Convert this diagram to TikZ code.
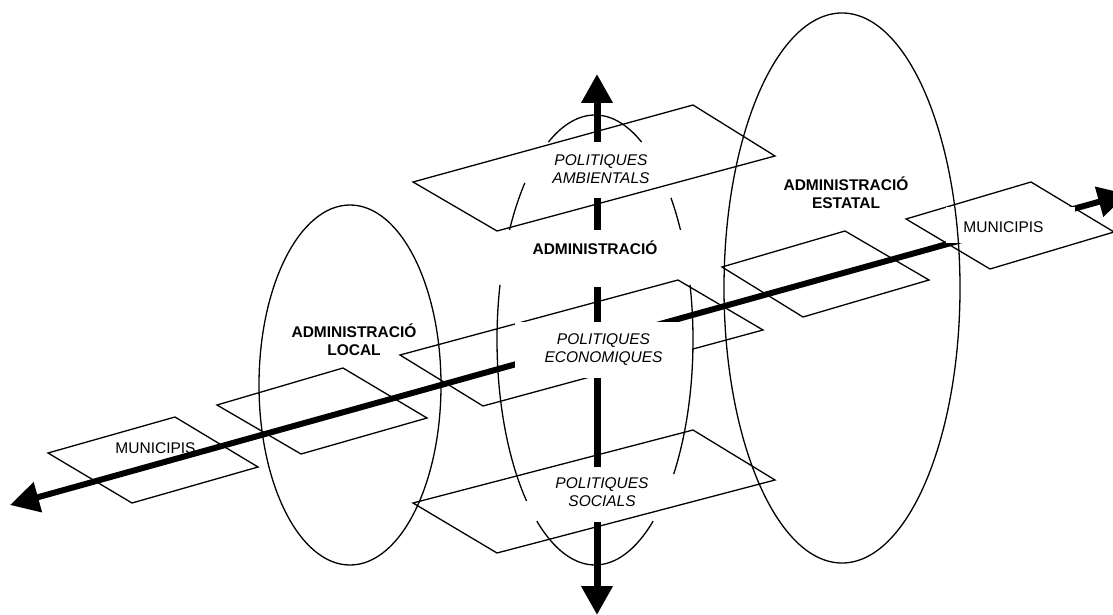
\documentclass[tikz,border=0pt]{standalone}
\usepackage{fontspec}
\setmainfont{Liberation Sans}
\usetikzlibrary{arrows.meta}
\tikzset{bighead/.tip={Triangle[length=29pt,width=30pt]}}
\begin{document}
\begin{tikzpicture}[x=1pt,y=-1pt,
  outline/.style={draw, line width=1.3pt},
  plane/.style={draw, line width=1.3pt, line join=miter},
  axisline/.style={line width=6pt},
  vaxis/.style={line width=7pt},
  lbl/.style={font=\fontsize{15.5}{18}\selectfont, align=center, inner sep=0pt},
  boldlbl/.style={lbl, font=\fontsize{15.5}{18}\selectfont\bfseries},
  itlbl/.style={lbl, font=\fontsize{15.5}{18}\selectfont\itshape},
  arc part/.style={draw, line width=1.3pt}
]
\useasboundingbox (0,0) rectangle (1113,615);

% local administration ring
\draw[outline] (350,385) ellipse[x radius=91, y radius=180];

% planes of municipalities along the horizontal axis
\draw[plane] (48,453) -- (175,417) -- (258,467) -- (132,503) -- cycle;
\draw[plane] (217,405) -- (343,368) -- (427,418) -- (301,454) -- cycle;
\draw[plane] (722,267) -- (845,231) -- (929,280) -- (803,317) -- cycle;
\draw[plane] (906,219) -- (1031,182) -- (1114,232) -- (990,269) -- cycle;

% policy planes along the vertical axis
\draw[plane] (413,182) -- (693,105) -- (775,156) -- (497,231) -- cycle;
\draw[plane] (400,355) -- (678,280) -- (763,330) -- (483,406) -- cycle;
\draw[plane] (413,503) -- (693,430) -- (775,480) -- (497,553) -- cycle;

% horizontal axis: local <-> state
\coordinate (west) at (10,505);
\coordinate (east) at (1127,194);
\node[lbl] (munL) at (155.5,448) {MUNICIPIS};
\draw[axisline, bighead-bighead] (west) -- (east);

% label box for economic policies
\node[itlbl, fill=white, minimum width=177pt, minimum height=56pt] (eco) at (603.5,350) {POLITIQUES\\ECONOMIQUES};

% central administration ring, interrupted by the labels
\coordinate (mc) at (595,340);
\draw[arc part] (mc) ++(-118.4:98 and 225) arc[start angle=-118.4, end angle=-61.6, x radius=98, y radius=225];
\draw[arc part] (mc) ++(209.3:98 and 225) arc[start angle=209.3, end angle=224.3, x radius=98, y radius=225];
\draw[arc part] (mc) ++(-39.2:98 and 225) arc[start angle=-39.2, end angle=-29.3, x radius=98, y radius=225];
\draw[arc part] (mc) ++(134.3:98 and 225) arc[start angle=134.3, end angle=194.2, x radius=98, y radius=225];
\draw[arc part] (mc) ++(-14.2:98 and 225) arc[start angle=-14.2, end angle=36.6, x radius=98, y radius=225];
\draw[arc part] (mc) ++(53.6:98 and 225) arc[start angle=53.6, end angle=126.4, x radius=98, y radius=225];

% vertical axis, broken by the labels
\coordinate (north) at (597,74);
\coordinate (south) at (597,615);
\draw[vaxis, -bighead] (597,142) -- (north);
\draw[vaxis] (597,198) -- (597,230);
\draw[vaxis] (597,287) -- (597,322);
\draw[vaxis] (597,378) -- (597,467);
\draw[vaxis, -bighead] (597,522) -- (south);

% state administration ring, with a clear box for the municipalities label
\fill[white] (946,207) rectangle (1075,243);
\draw[outline] (842,288) ellipse[x radius=118, y radius=275];

% labels
\node[boldlbl] (local) at (354,340) {ADMINISTRACIÓ\\LOCAL};
\node[boldlbl] (estatal) at (846,193) {ADMINISTRACIÓ\\ESTATAL};
\node[boldlbl] (admin) at (595,248) {ADMINISTRACIÓ};
\node[itlbl] (amb) at (601,169) {POLITIQUES\\AMBIENTALS};
\node[itlbl] (soc) at (602,492) {POLITIQUES\\SOCIALS};
\node[lbl] (munR) at (1003.5,227) {MUNICIPIS};
\end{tikzpicture}
\end{document}
